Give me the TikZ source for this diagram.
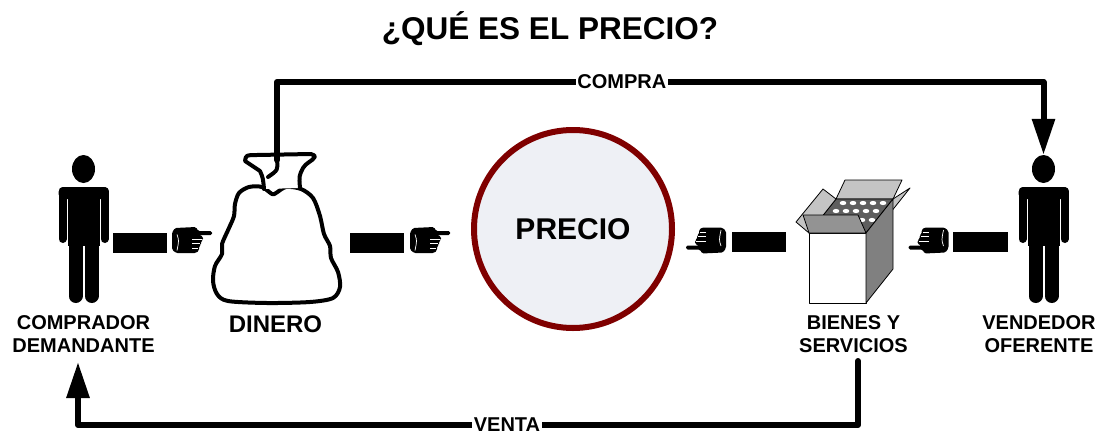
\documentclass[tikz,border=0pt]{standalone}
\usepackage{fontspec}
\setmainfont{Liberation Sans}
\usetikzlibrary{arrows.meta,shapes.geometric}

\definecolor{ringred}{HTML}{7F0000}
\definecolor{ringfill}{HTML}{EEF0F5}
\definecolor{boxside}{HTML}{808080}
\definecolor{boxflap}{HTML}{C4C4C4}
\definecolor{boxfront}{HTML}{939393}
\definecolor{boxinner}{HTML}{5E5E5E}

\tikzset{
  flow/.style={line width=6pt, line join=round, line cap=round,
    -{Triangle[length=36pt,width=22pt]}},
  flowlabel/.style={fill=white, inner sep=1.5pt, font=\bfseries\fontsize{20}{20}\selectfont},
  caption/.style={align=center, anchor=north, inner sep=0pt,
    font=\bfseries\fontsize{20}{23}\selectfont},
  boxline/.style={draw=black, line width=0.8pt, line join=round},
  bagline/.style={line width=4pt, line join=round, line cap=round},
  % pointing hand, index finger towards +x
  pics/hand/.style={code={
    \fill[rounded corners=1.5pt] (-20,-8) -- (-17,-12.5) -- (4,-13.5) -- (6,-9.5)
      -- (20,-9.5) -- (20,-5.5) -- (7,-5.5) -- (11,-4) -- (11,-0.5) -- (9,0.5)
      -- (9,4.5) -- (7,5.5) -- (7,10) -- (4,12.5) -- (-16,12.5) -- (-20,9) -- cycle;
    \draw[white, line width=0.8pt] (0,-1.5) -- (10,-1.5) (0,3.2) -- (8,3.2)
      (0,7.8) -- (6,7.8);
    \draw[white, line width=0.7pt] (-15,-6) .. controls (-13,0) .. (-15,10);
  }},
  % standing figure, x relative to its axis, y absolute
  pics/person/.style={code={
    \node[ellipse, fill=black, minimum width=23pt, minimum height=28pt, inner sep=0pt]
      (-head) at (0,169) {};
    \fill[rounded corners=5pt] (-25,199) -- (-25,187) -- (25,187) -- (25,199) -- cycle;
    \fill (-16,192) rectangle (16,246);
    \draw[line width=8pt, line cap=round] (-21,191) -- (-21,239) (21,191) -- (21,239);
    \draw[line width=14pt, line cap=round] (-8,246) -- (-8,296) (8,246) -- (8,296);
  }}
}

\begin{document}
\begin{tikzpicture}[x=1pt,y=-1pt]
\useasboundingbox (0,0) rectangle (1102,434);

% title
\node[font=\bfseries\fontsize{31.5}{32}\selectfont] (title) at (550,29) {¿QUÉ ES EL PRECIO?};

% buyer and seller
\pic (buyer) at (83.5,0) {person};
\pic (seller) at (1043.5,0) {person};

% money bag
\filldraw[bagline, fill=white] plot[smooth cycle, tension=0.5] coordinates {
  (272,194) (262,187) (249,187) (239,193) (235,204) (234,216) (229,228)
  (222,244) (222,254) (215,266) (213,281) (217,294) (228,301) (267,303) (310,302)
  (333,298) (340,287) (338,272) (331,258) (330,246) (324,234) (320,216) (313,198)
  (301,189) (286,187) (276,193)};
\filldraw[bagline, fill=white] (264,189) .. controls (263,178) .. (260,171)
  .. controls (252,166) .. (245,161) .. controls (246,155) .. (257,155)
  -- (311,154) .. controls (316,156) .. (312,160) .. controls (305,165) .. (303,168)
  .. controls (299,176) .. (300,188);
\draw[bagline] (277,160) .. controls (278,170) .. (268,177);
\coordinate (bagtop) at (277,160);

% price circle
\node[circle, draw=ringred, line width=6pt, fill=ringfill, minimum size=198pt,
  inner sep=0pt, font=\bfseries\fontsize{30}{30}\selectfont] (precio) at (573,229) {PRECIO};

% goods box
\filldraw[boxline, fill=boxflap] (836,199) -- (845,180) -- (902,180) -- (893,199) -- cycle;
\filldraw[boxline, fill=boxflap] (866,233) -- (893,199) -- (910,188) -- (883,222) -- cycle;
\filldraw[boxline, fill=boxinner] (809,233) -- (836,199) -- (893,199) -- (866,233) -- cycle;
\foreach \x/\y in {843/203,853/203,863/203,873/203,883/203,
                   836/211,846/211,856/211,866/211,876/211,
                   862/220,872/220}
  \fill[white] (\x,\y) ellipse [x radius=3.3, y radius=2.1];
\filldraw[boxline, fill=boxflap] (809,233) -- (836,199) -- (823,189) -- (796,222) -- cycle;
\filldraw[boxline, fill=white] (809,233) rectangle (866,303);
\filldraw[boxline, fill=boxside] (866,233) -- (893,199) -- (893,269) -- (866,303) -- cycle;
\filldraw[boxline, fill=boxfront] (809,233) -- (866,233) -- (858,215) -- (803,215) -- cycle;

% giving bars with pointing hands
\fill (113,233) rectangle (167,253);
\pic at (192,240.5) {hand};
\fill (350,233) rectangle (404,253);
\pic at (430,240.5) {hand};
\pic[rotate=180] at (706,240) {hand};
\fill (732,232) rectangle (786,252);
\pic[rotate=180] at (928.5,240) {hand};
\fill (953,232) rectangle (1008,252);

% captions
\node[caption] (buyerlabel) at (83.5,315.5) {COMPRADOR\\DEMANDANTE};
\node[anchor=base, inner sep=0pt, font=\bfseries\fontsize{24}{24}\selectfont] (money) at (275.5,332) {DINERO};
\node[caption] (goodslabel) at (853.5,315.5) {BIENES Y\\SERVICIOS};
\node[caption] (sellerlabel) at (1039,315.5) {VENDEDOR\\OFERENTE};

% purchase and sale flows
\coordinate (topleft) at (277,82);
\coordinate (topright) at (1043.5,82);
\draw[flow] (bagtop) -- (topleft) -- node[flowlabel, pos=0.45] (compra) {COMPRA}
  (topright) -- (seller-head.north);

\coordinate (salestart) at (858,361);
\coordinate (botright) at (858,425);
\coordinate (botleft) at (78,425);
\coordinate (buyerin) at (78,362);
\draw[flow] (salestart) -- (botright) -- node[flowlabel, pos=0.45] (venta) {VENTA}
  (botleft) -- (buyerin);
\end{tikzpicture}
\end{document}
